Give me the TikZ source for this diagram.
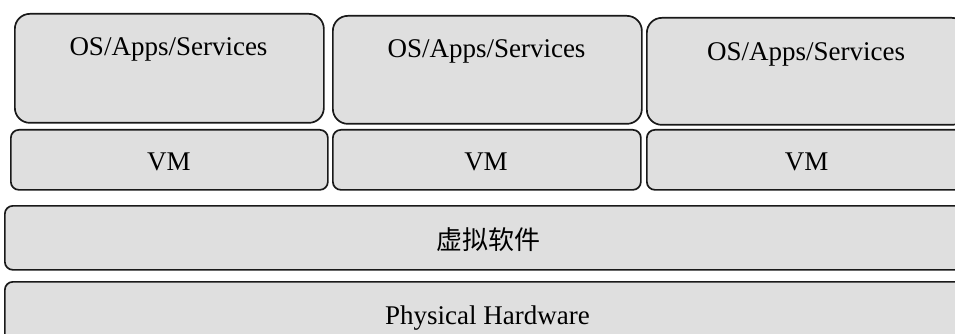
\documentclass[tikz,border=0pt]{standalone}
\usepackage{fontspec}
\setmainfont{Liberation Serif}
\newfontfamily\cjk{Noto Sans CJK SC}
\begin{document}
\begin{tikzpicture}[x=1pt,y=-1pt,
  layer/.style={draw=black!90, fill=gray!25, line width=1.7pt, inner sep=0pt, anchor=north west},
  osbox/.style={layer, rounded corners=15pt},
  flatbox/.style={layer, rounded corners=8pt},
  lbl/.style={font=\fontsize{27}{32}\selectfont, anchor=base, inner sep=0pt}]
\useasboundingbox (0,0) rectangle (955,334);
\clip (0,0) rectangle (955,334);
% OS boxes
\node[osbox, minimum width=309pt, minimum height=109pt] (os1) at (14,13) {};
\node[osbox, minimum width=309pt, minimum height=108pt] (os2) at (332,15) {};
\node[osbox, minimum width=320pt, minimum height=107pt] (os3) at (646,17) {};
\node[lbl] (os1t) at (168.5,56) {OS/Apps/Services};
\node[lbl] (os2t) at (486.5,58) {OS/Apps/Services};
\node[lbl] (os3t) at (806,61) {OS/Apps/Services};
% VM boxes
\node[flatbox, minimum width=317pt, minimum height=60pt] (vm1) at (10,129) {};
\node[flatbox, minimum width=308pt, minimum height=60pt] (vm2) at (332,129) {};
\node[flatbox, minimum width=321pt, minimum height=60pt] (vm3) at (646,129) {};
\node[lbl] (vm1t) at (169,170) {VM};
\node[lbl] (vm2t) at (486,170) {VM};
\node[lbl] (vm3t) at (806.5,170) {VM};
% hypervisor
\node[flatbox, minimum width=968pt, minimum height=64pt] (hv) at (4,205) {};
\node[font=\cjk\fontsize{26}{30}\selectfont, inner sep=0pt] (hvt) at (488.5,239.5) {虚拟软件};
% hardware
\node[flatbox, minimum width=968pt, minimum height=70pt] (hw) at (4,281) {};
\node[lbl] (hwt) at (487.5,324) {Physical Hardware};
\end{tikzpicture}
\end{document}
